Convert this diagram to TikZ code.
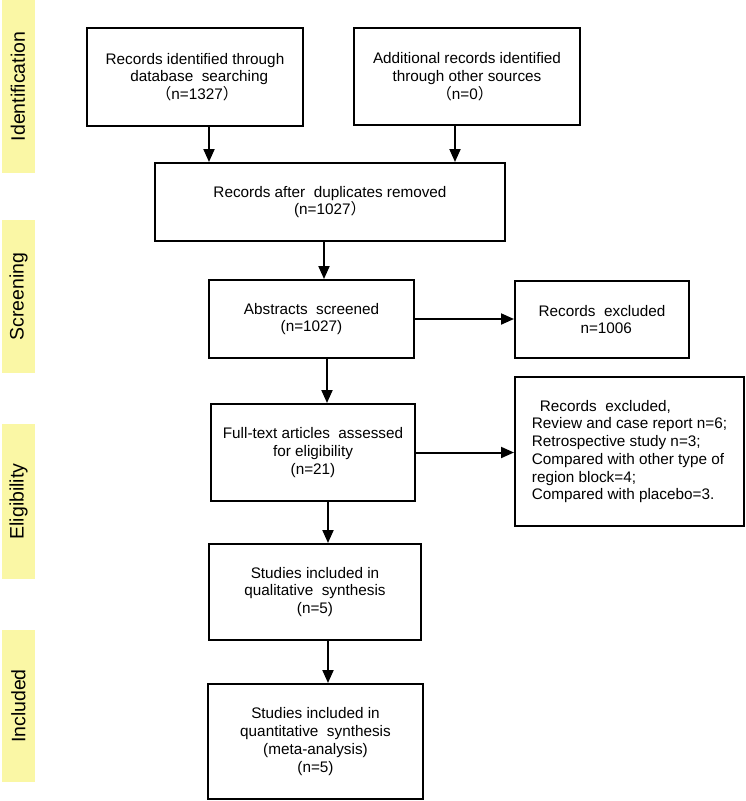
\documentclass[tikz,border=0pt]{standalone}
\usepackage{fontspec}
\setmainfont{Liberation Sans}
\newfontfamily\cjk{Noto Sans CJK SC}
\usetikzlibrary{arrows.meta}
\definecolor{baryellow}{RGB}{250,247,165}
\begin{document}
\begin{tikzpicture}[x=1pt,y=-1pt,
  box/.style={draw=black, line width=2pt, rectangle, inner sep=0pt, align=center,
              font=\fontsize{15.3}{17.7}\selectfont},
  bar/.style={fill=baryellow, inner sep=0pt, minimum width=33pt,
              font=\fontsize{19.5}{22}\selectfont},
  arr/.style={line width=2pt, -{Triangle[length=13pt,width=11pt]}}]
\fill[white] (0,0) rectangle (746,801);
\useasboundingbox (0,0) rectangle (746,801);

% phase bars
\node[bar, minimum height=173pt] (bid) at (18,86.5) {\rotatebox{90}{Identification}};
\node[bar, minimum height=153pt] (bsc) at (18.5,296.5) {\rotatebox{90}{Screening}};
\node[bar, minimum height=155pt] (bel) at (18.5,501.5) {\rotatebox{90}{Eligibility}};
\node[bar, minimum height=152pt] (bin) at (18.5,706) {\rotatebox{90}{Included}};

% boxes
\node[box, minimum width=216pt, minimum height=98pt] (b1) at (195,77)
  {Records identified through\\ \ \ database~ searching\\ \ {\cjk（}n=1327{\cjk）}};
\node[box, minimum width=226pt, minimum height=97pt] (b2) at (467,76.5)
  {Additional records identified\\ through other sources\\ {\cjk（}n=0{\cjk）}\ \ };
\node[box, minimum width=350pt, minimum height=78pt] (b3) at (330,202)
  {Records after~ duplicates removed\\ (n=1027{\cjk）}};
\node[box, minimum width=205pt, minimum height=78pt] (b4) at (311.5,319)
  {Abstracts~ screened\\ (n=1027)};
\node[box, minimum width=174pt, minimum height=77pt] (b5) at (602,319.5)
  {Records~ excluded\\ \ \ n=1006};
\node[box, minimum width=204pt, minimum height=97pt] (b6) at (313,452.5)
  {Full-text articles~ assessed\\ for eligibility\\ (n=21)};
\node[box, minimum width=229pt, minimum height=149pt, align=left] (b7) at (629.5,451.5)
  {\hspace*{8pt}Records~ excluded,\\
   Review and case report n=6;\\
   Retrospective study n=3;\\
   Compared with other type of\\
   region block=4;\\
   Compared with placebo=3.};
\node[box, minimum width=212pt, minimum height=96pt] (b8) at (315,592)
  {Studies included in\\ qualitative~ synthesis\\ (n=5)};
\node[box, minimum width=215pt, minimum height=115pt] (b9) at (315.5,741.5)
  {Studies included in\\ quantitative~ synthesis\\ (meta-analysis)\\ (n=5)};

% connectors
\draw[arr] ([xshift=14pt]b1.south) -- ([xshift=14pt]b1.south |- b3.north);
\draw[arr] ([xshift=-12pt]b2.south) -- ([xshift=-12pt]b2.south |- b3.north);
\draw[arr] ([xshift=-6pt]b3.south) -- ([xshift=-6pt]b3.south |- b4.north);
\draw[arr] (b4.east) -- (b4.east -| b5.west);
\draw[arr] ([xshift=15.5pt]b4.south) -- ([xshift=15.5pt]b4.south |- b6.north);
\draw[arr] (b6.east) -- (b6.east -| b7.west);
\draw[arr] ([xshift=15pt]b6.south) -- ([xshift=15pt]b6.south |- b8.north);
\draw[arr] ([xshift=13pt]b8.south) -- ([xshift=13pt]b8.south |- b9.north);
\end{tikzpicture}
\end{document}
